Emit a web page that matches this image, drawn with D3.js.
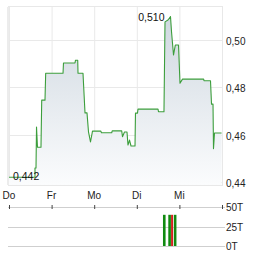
<!DOCTYPE html>
<html>
<head>
<meta charset="utf-8">
<script src="https://cdn.jsdelivr.net/npm/d3@7"></script>
<style>
  html, body { margin: 0; padding: 0; background: #fff; }
  svg { display: block; font-family: "Liberation Sans", Arial, sans-serif; }
</style>
</head>
<body>
<div id="chart"></div>
<script>
// Day labels (x axis), one per day boundary
const dayLabels = ['Do', 'Fr', 'Mo', 'Di', 'Mi'];

// Price series: time in days from the first label, price in EUR
const priceDay = [
  0, 0.61, 0.61, 0.634, 0.646, 0.669, 0.751, 0.768, 0.845, 0.861,
  1.268, 1.279, 1.549, 1.561, 1.613, 1.62, 1.737, 1.784, 1.831, 1.866,
  1.913, 1.96, 2.153, 2.171, 2.411, 2.423, 2.646, 2.664, 2.711, 2.77,
  2.793, 2.829, 2.864, 2.958, 2.969, 3.016, 3.028, 3.498, 3.509, 3.638,
  3.662, 3.732, 3.779, 3.791, 3.815, 3.862, 3.904, 3.979, 4.014, 4.073,
  4.57, 4.577, 4.73, 4.754, 4.789, 4.8, 4.824, 4.99
];
const priceValue = [
  0.442, 0.442, 0.4459, 0.4459, 0.4632, 0.4547, 0.4547, 0.4746, 0.4746, 0.486,
  0.486, 0.4903, 0.4903, 0.4915, 0.4915, 0.486, 0.486, 0.4692, 0.4692, 0.4612,
  0.4569, 0.4615, 0.4615, 0.4608, 0.4608, 0.4616, 0.4616, 0.4591, 0.4611, 0.4611,
  0.4556, 0.4577, 0.4552, 0.4552, 0.4691, 0.4691, 0.4708, 0.4708, 0.4697, 0.4697,
  0.5077, 0.5085, 0.5096, 0.510, 0.5035, 0.4937, 0.4979, 0.4979, 0.4818, 0.4835,
  0.4835, 0.4828, 0.4828, 0.4729, 0.4729, 0.4541, 0.4607, 0.4607
];

// Price axis ticks
const priceTicks = [0.44, 0.46, 0.48, 0.50];

// Volume bars (thousands of shares)
const volumeDay = [3.645, 3.77, 3.828, 3.9];
const volumeValue = [40, 40, 40, 40];
const volumeUp = [true, true, false, true];
const volumeTicks = [0, 25, 50];

const width = 264;
const height = 255;
const plot = { left: 9, right: 222, top: 7, bottom: 185 };
const vol = { top: 207, bottom: 246 };

const fmt = (v, n) => v.toFixed(n).replace('.', ',');

const svg = d3.select('#chart')
  .append('svg')
  .attr('width', width)
  .attr('height', height);

const x = d3.scaleLinear().domain([0, 5]).range([plot.left, plot.right]);
const y = d3.scaleLinear().domain([0.4387, 0.514]).range([plot.bottom, plot.top]);
const yVol = d3.scaleLinear().domain([0, 50]).range([vol.bottom, vol.top]);

const data = priceDay.map((d, i) => ({ d, v: priceValue[i] }));

// gradient for the area
const grad = svg.append('defs').append('linearGradient')
  .attr('id', 'fillGrad')
  .attr('gradientUnits', 'userSpaceOnUse')
  .attr('x1', 0).attr('x2', 0)
  .attr('y1', plot.top).attr('y2', plot.bottom);
grad.append('stop').attr('offset', 0).attr('stop-color', '#cdd6df');
grad.append('stop').attr('offset', 1).attr('stop-color', '#fbfcfd');

// grid
const gridDays = d3.range(0, 6);
svg.append('g')
  .selectAll('line')
  .data(gridDays)
  .join('line')
  .attr('x1', (d) => x(d) + 0.5)
  .attr('x2', (d) => x(d) + 0.5)
  .attr('y1', plot.top)
  .attr('y2', plot.bottom + 1)
  .attr('stroke', '#e9e9e9');

svg.append('g')
  .selectAll('line')
  .data(priceTicks)
  .join('line')
  .attr('x1', plot.left)
  .attr('x2', plot.right)
  .attr('y1', (d) => Math.round(y(d)) + 0.5)
  .attr('y2', (d) => Math.round(y(d)) + 0.5)
  .attr('stroke', '#e9e9e9');

// frame
svg.append('rect')
  .attr('x', plot.left - 0.5)
  .attr('y', plot.top - 0.5)
  .attr('width', plot.right - plot.left + 1)
  .attr('height', plot.bottom - plot.top + 1)
  .attr('fill', 'none')
  .attr('stroke', '#e8e8e8');
svg.append('line')
  .attr('x1', plot.left - 1).attr('x2', plot.left - 1)
  .attr('y1', plot.top).attr('y2', plot.bottom)
  .attr('stroke', '#ececec')
  .attr('stroke-width', 2);

// area + line
svg.append('path')
  .datum(data)
  .attr('d', d3.area().x((d) => x(d.d)).y0(plot.bottom).y1((d) => y(d.v)))
  .attr('fill', 'url(#fillGrad)');

svg.append('path')
  .datum(data)
  .attr('d', d3.line().x((d) => x(d.d)).y((d) => y(d.v)))
  .attr('fill', 'none')
  .attr('stroke', '#3c9e3c')
  .attr('stroke-width', 1.1)
  .attr('stroke-linejoin', 'round');

// high / low labels
const maxI = d3.maxIndex(priceValue);
const minI = d3.minIndex(priceValue);
svg.append('text')
  .attr('x', x(priceDay[maxI]) - 6)
  .attr('y', y(priceValue[maxI]) + 4.5)
  .attr('text-anchor', 'end')
  .attr('font-size', 10.5)
  .attr('fill', '#111')
  .text(fmt(priceValue[maxI], 3));
svg.append('text')
  .attr('x', x(priceDay[minI]) + 4)
  .attr('y', y(priceValue[minI]) + 2.5)
  .attr('font-size', 10.5)
  .attr('fill', '#111')
  .text(fmt(priceValue[minI], 3));

// price axis labels
svg.append('g')
  .selectAll('text')
  .data(priceTicks)
  .join('text')
  .attr('x', plot.right + 4)
  .attr('y', (d) => y(d) + 5)
  .attr('font-size', 10)
  .attr('fill', '#222')
  .text((d) => fmt(d, 2));

// day labels
svg.append('g')
  .selectAll('text')
  .data(dayLabels)
  .join('text')
  .attr('x', (d, i) => x(i))
  .attr('y', 199)
  .attr('text-anchor', 'middle')
  .attr('font-size', 10)
  .attr('fill', '#222')
  .text((d) => d);

// volume panel grid
svg.append('g')
  .selectAll('line')
  .data(volumeTicks)
  .join('line')
  .attr('x1', plot.left - 1)
  .attr('x2', plot.right + 3)
  .attr('y1', (d) => Math.round(yVol(d)) + 0.5)
  .attr('y2', (d) => Math.round(yVol(d)) + 0.5)
  .attr('stroke', '#cfcfcf');

// day ticks on volume panel top
svg.append('g')
  .selectAll('line')
  .data(gridDays)
  .join('line')
  .attr('x1', (d) => x(d) + 0.5)
  .attr('x2', (d) => x(d) + 0.5)
  .attr('y1', vol.top - 2)
  .attr('y2', vol.top + 2)
  .attr('stroke', '#444');

// volume bars
svg.append('g')
  .selectAll('rect')
  .data(volumeDay)
  .join('rect')
  .attr('x', (d, i) => x(d) - (volumeUp[i] ? 1.3 : 1))
  .attr('y', (d, i) => yVol(volumeValue[i]))
  .attr('width', (d, i) => (volumeUp[i] ? 2.6 : 2))
  .attr('height', (d, i) => yVol(0) - yVol(volumeValue[i]))
  .attr('fill', (d, i) => (volumeUp[i] ? '#108a10' : '#d42020'));

// volume labels
svg.append('g')
  .selectAll('text')
  .data(volumeTicks)
  .join('text')
  .attr('x', plot.right + 4)
  .attr('y', (d) => yVol(d) + 4)
  .attr('font-size', 10)
  .attr('fill', '#222')
  .text((d) => `${d}T`);
</script>
</body>
</html>
